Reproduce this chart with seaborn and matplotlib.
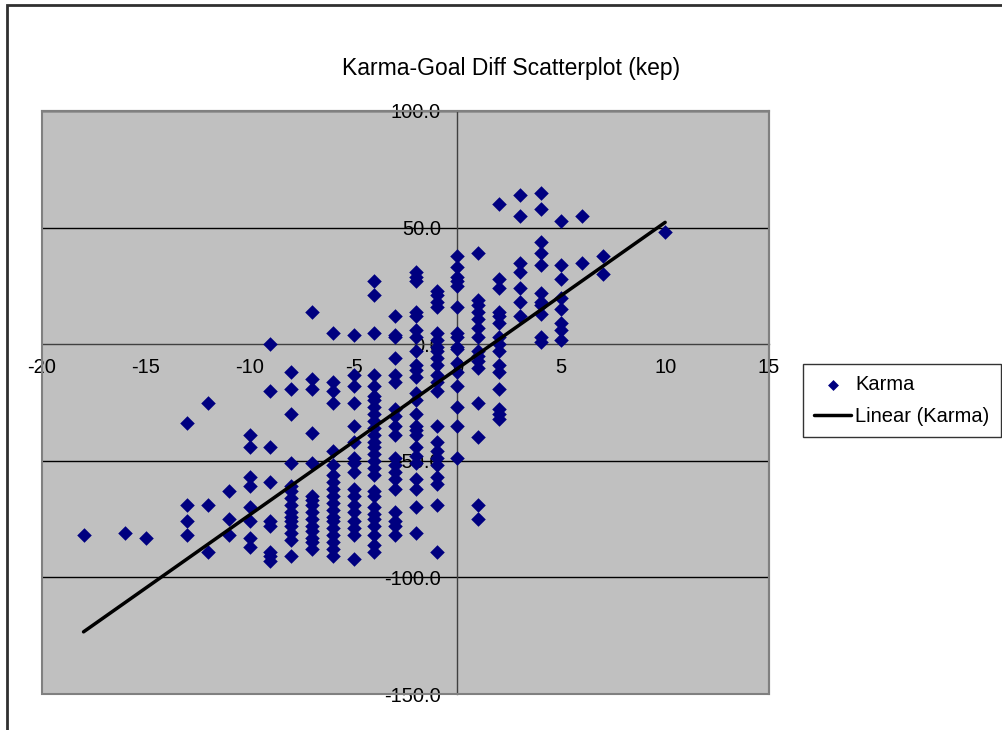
import numpy as np
import pandas as pd
import matplotlib
matplotlib.use("Agg")
import matplotlib.pyplot as plt
import seaborn as sns
from matplotlib.patches import Rectangle

# goal difference (x) and karma (y), one line per goal-diff column
goal_diff = (
    [-18] * 1 + [-16] * 1 + [-15] * 1 + [-13] * 4 + [-12] * 3 + [-11] * 3
    + [-10] * 8 + [-9] * 9 + [-8] * 15 + [-7] * 15 + [-6] * 19 + [-5] * 17
    + [-4] * 27 + [-3] * 19 + [-2] * 24 + [-1] * 22 + [0] * 16 + [1] * 15
    + [2] * 15 + [3] * 7 + [4] * 11 + [5] * 8 + [6] * 2 + [7] * 2 + [10] * 1
)
karma = (
    [-82]
    + [-81]
    + [-83]
    + [-34, -69, -76, -82]
    + [-25, -69, -89]
    + [-63, -75, -82]
    + [-39, -44, -57, -61, -70, -76, -83, -87]
    + [0, -20, -44, -59, -76, -78, -89, -91, -93]
    + [-12, -19, -30, -51, -61, -63, -66, -69, -72, -74, -76, -78, -81, -84, -91]
    + [14, -15, -19, -38, -51, -65, -67, -69, -72, -75, -78, -80, -83, -85, -88]
    + [5, -16, -20, -25, -46, -52, -56, -59, -62, -65, -68, -71, -74, -76, -79,
       -82, -85, -88, -91]
    + [4, -13, -18, -25, -35, -42, -49, -51, -55, -62, -65, -69, -72, -76, -79,
       -82, -92]
    + [27, 21, 5, -13, -18, -22, -24, -27, -30, -33, -36, -39, -42, -44, -47,
       -50, -53, -56, -63, -65, -70, -73, -75, -78, -82, -86, -89]
    + [12, 4, 3, -6, -13, -16, -28, -31, -35, -39, -49, -52, -55, -58, -62,
       -72, -76, -78, -82]
    + [31, 29, 27, 14, 12, 6, 3, -3, -9, -11, -14, -21, -24, -30, -35, -37,
       -39, -44, -48, -51, -58, -62, -70, -81]
    + [23, 21, 18, 16, 5, 2, -1, -3, -6, -9, -13, -16, -20, -35, -42, -46,
       -49, -52, -57, -60, -69, -89]
    + [38, 33, 29, 27, 25, 16, 5, 3, -1, -2, -8, -12, -18, -27, -35, -49]
    + [39, 19, 17, 14, 11, 7, 3, -3, -5, -7, -10, -25, -40, -69, -75]
    + [60, 28, 24, 14, 12, 9, 3, 0, -3, -9, -12, -19, -28, -30, -32]
    + [64, 55, 35, 31, 24, 18, 12]
    + [65, 58, 44, 39, 34, 22, 18, 17, 13, 3, 1]
    + [53, 34, 28, 20, 15, 9, 6, 2]
    + [55, 35]
    + [38, 30]
    + [48]
)
x_ticks = [-20, -15, -10, -5, 0, 5, 10, 15]
y_ticks = [-150, -100, -50, 0, 50, 100]

df = pd.DataFrame({"goal_diff": goal_diff, "karma": karma})

sns.set_style("white")
plt.rcParams["font.family"] = ["Liberation Sans", "DejaVu Sans"]
plt.rcParams["axes.unicode_minus"] = False
plt.rcParams["text.color"] = "black"

FS = 14.5
W, H = 1003, 730
fig = plt.figure(figsize=(W / 100, H / 100), dpi=100)
ax = fig.add_axes([42 / W, 1 - 694 / H, (769 - 42) / W, (694 - 111) / H])
ax.set_facecolor("#C0C0C0")

for y in y_ticks:
    if y != 0:
        ax.axhline(y, color="black", lw=1, zorder=1)

sns.scatterplot(data=df, x="goal_diff", y="karma", marker="D", s=55,
                color="#000080", edgecolor="#000080", linewidth=0,
                label="Karma", ax=ax, zorder=4)
sns.regplot(data=df, x="goal_diff", y="karma", scatter=False, ci=None,
            truncate=True, ax=ax,
            line_kws={"color": "black", "lw": 2.5, "zorder": 5})
ax.lines[-1].set_label("Linear (Karma)")

ax.set_xlim(-20, 15)
ax.set_ylim(-150, 100)
ax.set_xticks(x_ticks)
ax.set_yticks(y_ticks)
ax.set_yticklabels([f"{v:.1f}" for v in y_ticks])
ax.set_xlabel("")
ax.set_ylabel("")

ax.spines["left"].set_position(("data", 0))
ax.spines["bottom"].set_position(("data", 0))
for side in ["left", "bottom"]:
    ax.spines[side].set_color("#404040")
    ax.spines[side].set_linewidth(1)
    ax.spines[side].set_zorder(2)
for side in ["top", "right"]:
    ax.spines[side].set_color("#808080")
    ax.spines[side].set_linewidth(1.5)
ax.add_patch(Rectangle((0, 0), 1, 1, transform=ax.transAxes, fill=False,
                       edgecolor="#808080", lw=1.5, clip_on=False, zorder=6))

ax.tick_params(axis="both", direction="out", length=4, width=1,
               color="#404040", labelsize=FS, labelcolor="black")
ax.tick_params(axis="y", pad=8)
ax.tick_params(axis="x", pad=6)

ax.get_legend().remove()
handles, labels = ax.get_legend_handles_labels()
leg = fig.legend(handles, labels, loc="upper left",
                 bbox_to_anchor=(803 / W, 1 - 364 / H), fontsize=FS,
                 frameon=True, fancybox=False, borderpad=0.55,
                 handlelength=1.85, handletextpad=0.2, labelspacing=0.65,
                 markerscale=0.75, borderaxespad=0)
leg.get_frame().set_edgecolor("black")
leg.get_frame().set_linewidth(1)

fig.text(511 / W, 1 - 68 / H, "Karma-Goal Diff Scatterplot (kep)",
         ha="center", va="center", fontsize=16.5, color="black")

fig.patches.append(Rectangle((7 / W, -0.1), 1.2, 1.1 - 5 / H,
                             transform=fig.transFigure, fill=False,
                             edgecolor="#303030", lw=2))

fig.savefig("out.png", dpi=100)
